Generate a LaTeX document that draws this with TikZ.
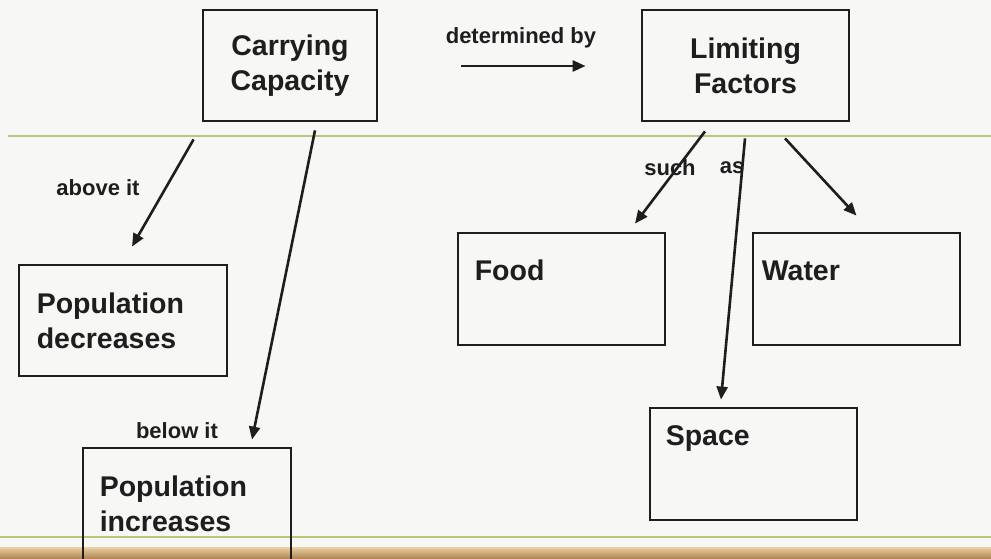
\documentclass[tikz,border=0pt]{standalone}
\usepackage{fontspec}
\setmainfont{Liberation Sans}
\usetikzlibrary{arrows.meta,calc}
\definecolor{bgc}{RGB}{247,247,246}
\definecolor{gline}{RGB}{180,200,125}
\definecolor{ink}{RGB}{30,30,30}
\definecolor{tanl}{RGB}{235,210,165}
\definecolor{tand}{RGB}{170,120,70}
\tikzset{
  box/.style={draw=ink, line width=2.8pt, minimum width=#1, inner sep=0pt},
  big/.style={font=\fontsize{28.5}{35}\selectfont\bfseries, text=ink, inner sep=0pt, align=left},
  bigc/.style={font=\fontsize{28.5}{35}\selectfont\bfseries, text=ink, inner sep=0pt, align=center},
  small/.style={font=\fontsize{22}{26}\selectfont\bfseries, text=ink, inner sep=0pt},
  arr/.style={-{Triangle[length=13pt,width=11pt]}, line width=2.6pt, draw=ink}
}
\begin{document}
\begin{tikzpicture}[x=1pt,y=-1pt]
\useasboundingbox (0,0) rectangle (991,559);
\clip (0,0) rectangle (991,559);
\fill[bgc] (0,0) rectangle (991,559);
\draw[gline, line width=2.5pt] (8,136) -- (991,136);
\draw[gline, line width=2.5pt] (0,537) -- (991,537);
\shade[top color=tanl, bottom color=tand] (0,547) rectangle (991,560);

% boxes
\node[box=174pt, minimum height=111pt] (cc) at (290,65.5) {};
\node[box=207pt, minimum height=111pt] (lf) at (745.5,65.5) {};
\node[box=208pt, minimum height=111pt] (pd) at (123,320.5) {};
\node[box=208pt, minimum height=130pt] (pi) at (187,513) {};
\node[box=207pt, minimum height=112pt] (food) at (561.5,289) {};
\node[box=207pt, minimum height=112pt] (water) at (856.5,289) {};
\node[box=207pt, minimum height=112pt] (space) at (753.5,464) {};

% box texts
\node[bigc] (tcc) at (cc.center) {Carrying\\Capacity};
\node[bigc] (tlf) at (lf.center) {Limiting\\Factors};
\node[big, anchor=west] (tpd) at ($(pd.west)+(19,0.5)$) {Population\\decreases};
\node[big, anchor=west] (tpi) at ($(pi.north west)+(18,57)$) {Population\\increases};
\node[big, anchor=west] (tfood) at ($(food.north west)+(18,39)$) {Food};
\node[big, anchor=west] (twater) at ($(water.north west)+(10,39)$) {Water};
\node[big, anchor=west] (tspace) at ($(space.north west)+(17,32)$) {Space};

% labels
\node[small] (ldet) at (521,38) {determined by};
\node[small] (labove) at (98,188) {above it};
\node[small] (lbelow) at (177,431) {below it};
\node[small] (lsuch) at (670,168) {such};
\node[small] (las) at (732,168) {as};

% arrows
\draw[arr] ($(cc.east)+(83,0.5)$) -- ($(lf.west)+(-55,0.5)$);
\draw[arr] ($(cc.south west)+(-8,17)$) -- ($(pd.north)+(9,-17)$);
\draw[arr] ($(cc.south)+(25,8)$) -- ($(pi.north)+(65,-7)$);
\draw[arr] ($(lf.south)+(-40.5,9)$) -- ($(food.north)+(73.5,-8)$);
\draw[arr] ($(lf.south)+(-0.5,16)$) -- ($(space.north)+(-32.5,-7)$);
\draw[arr] ($(lf.south)+(39.5,16)$) -- ($(water.north)+(0,-16)$);
\end{tikzpicture}
\end{document}
